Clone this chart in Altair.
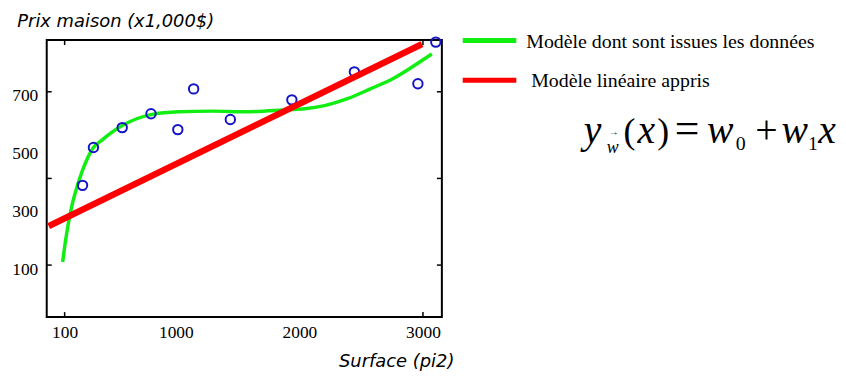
import altair as alt
import pandas as pd

# ---- data ----
pts_x = [245, 333, 566, 799, 1016, 1144, 1441, 1939, 2445, 2959, 3104]
pts_y = [376, 507, 576, 624, 569, 710, 604, 672, 769, 728, 872]

true_x = [84, 108, 156, 204, 277, 333, 397, 566, 799, 1024, 1300, 1562, 1907, 2044, 2204, 2389, 2574, 2767, 2927, 3072]
true_y = [111, 187, 301, 376, 462, 507, 531, 583, 621, 631, 633, 631, 638, 641, 652, 676, 710, 748, 790, 831]

lin_x = [-29, 2992]
lin_y = [235, 865]

x_tick_labels = [100, 1000, 2000, 3000]
y_tick_labels = [100, 300, 500, 700]
x_tick_marks = [100, 3000]
y_tick_marks = [100, 400, 700]

series_names = ["Modèle dont sont issues les données", "Modèle linéaire appris"]
y_title = "Prix maison (x1,000$)"
x_title = "Surface (pi2)"

# ---- layout ----
W, H = 398, 279
GREEN = "#11ee11"
RED = "#ff0000"
BLUE = "#1515c8"
SERIF = "Liberation Serif"

xscale = alt.Scale(domain=[-45, 3153], nice=False, zero=False)
yscale = alt.Scale(domain=[-80, 879], nice=False, zero=False)

pts_df = pd.DataFrame({"x": pts_x, "y": pts_y})
true_df = pd.DataFrame({"x": true_x, "y": true_y, "s": series_names[0]})
lin_df = pd.DataFrame({"x": lin_x, "y": lin_y, "s": series_names[1]})

color_scale = alt.Scale(domain=series_names, range=[GREEN, RED])

x_axis = alt.Axis(orient="bottom", values=x_tick_labels, format="d", ticks=False, domain=False,
                  grid=False, labelFont=SERIF, labelFontSize=17.5, labelColor="black",
                  labelPadding=7, labelBaseline="top", labelFlush=False,
                  title=x_title, titleFont="DejaVu Sans", titleFontStyle="italic",
                  titleFontWeight="normal", titleFontSize=18, titleColor="black",
                  titleX=352, titleY=50, titleAlign="center", titleBaseline="alphabetic")
y_axis = alt.Axis(orient="left", values=y_tick_labels, format="d", ticks=False, domain=False,
                  grid=False, labelFont=SERIF, labelFontSize=17.5, labelColor="black",
                  labelPadding=9, labelOffset=4, labelFlush=False,
                  title=y_title, titleFont="DejaVu Sans", titleFontStyle="italic",
                  titleFontWeight="normal", titleFontSize=18, titleColor="black",
                  titleAngle=0, titleX=69, titleY=-14, titleAlign="center",
                  titleBaseline="alphabetic")

def X(field):
    return alt.X(field, scale=xscale, axis=x_axis)

def Y(field):
    return alt.Y(field, scale=yscale, axis=y_axis)

true_line = alt.Chart(true_df).mark_line(strokeWidth=3.5, interpolate="monotone").encode(
    x=X("x:Q"), y=Y("y:Q"),
    color=alt.Color("s:N", scale=color_scale, legend=None),
)

points = alt.Chart(pts_df).mark_point(shape="circle", filled=False, size=90,
                                      strokeWidth=2, color=BLUE, opacity=1).encode(
    x=X("x:Q"), y=Y("y:Q"),
)

lin_line = alt.Chart(lin_df).mark_line(strokeWidth=6.5).encode(
    x=X("x:Q"), y=Y("y:Q"),
    color=alt.Color("s:N", scale=color_scale, legend=None),
)

# inward ticks
xt_df = pd.DataFrame({"x": x_tick_marks})
yt_df = pd.DataFrame({"y": y_tick_marks})
xt_bottom = alt.Chart(xt_df).mark_rule(color="black", strokeWidth=1.5).encode(
    x=X("x:Q"), y=alt.value(H), y2=alt.value(H - 5))
xt_top = alt.Chart(xt_df).mark_rule(color="black", strokeWidth=1.5).encode(
    x=X("x:Q"), y=alt.value(0), y2=alt.value(5))
yt_left = alt.Chart(yt_df).mark_rule(color="black", strokeWidth=1.5).encode(
    y=Y("y:Q"), x=alt.value(0), x2=alt.value(5))
yt_right = alt.Chart(yt_df).mark_rule(color="black", strokeWidth=1.5).encode(
    y=Y("y:Q"), x=alt.value(W - 5), x2=alt.value(W))

# manual legend (view coordinates: page minus (47, 39))
leg0 = pd.DataFrame({"s": [series_names[0]]})
leg1 = pd.DataFrame({"s": [series_names[1]]})

def leg_line(df, y):
    return alt.Chart(df).mark_rule(strokeWidth=5).encode(
        x=alt.value(419), x2=alt.value(473), y=alt.value(y),
        color=alt.Color("s:N", scale=color_scale, legend=None))

def leg_text(df, x, y):
    return alt.Chart(df).mark_text(
        font=SERIF, fontSize=20, align="left", baseline="alphabetic", color="black").encode(
        x=alt.value(x), y=alt.value(y), text="s:N")

# formula  y_w(x) = w0 + w1 x
one = pd.DataFrame({"a": [0]})
def piece(txt, x, y, size, italic=False, align="left"):
    return alt.Chart(one).mark_text(
        font=SERIF, fontSize=size, fontStyle="italic" if italic else "normal",
        align=align, baseline="alphabetic", color="black").encode(
        x=alt.value(x), y=alt.value(y), text=alt.value(txt))

BL = 104
formula = [
    piece("y", 541, BL, 40, True),
    piece("w", 564, BL + 10, 18, True),
    piece("→", 571, BL - 8, 10, False, "center"),
    piece("(", 581, BL, 36),
    piece("x", 595, BL, 40, True),
    piece(")", 615, BL, 36),
    piece("=", 645, BL, 44, False, "center"),
    piece("w", 665, BL, 40, True),
    piece("0", 694, BL + 7, 20),
    piece("+", 725, BL, 40, False, "center"),
    piece("w", 740, BL, 40, True),
    piece("1", 767, BL + 7, 19),
    piece("x", 777, BL, 40, True),
]

chart = alt.layer(
    true_line, points, lin_line,
    xt_bottom, xt_top, yt_left, yt_right,
    leg_line(leg0, 0.5), leg_line(leg1, 40.5),
    leg_text(leg0, 483, 7.5), leg_text(leg1, 488, 47.5),
    *formula,
).properties(
    width=W, height=H,
    background="white",
    autosize=alt.AutoSizeParams(type="none"),
    padding={"left": 39, "top": 31, "right": 399, "bottom": 53},
).configure_view(
    stroke="black", strokeWidth=2
)

chart.save("out.html", embed_options={"renderer": "svg", "actions": False})
